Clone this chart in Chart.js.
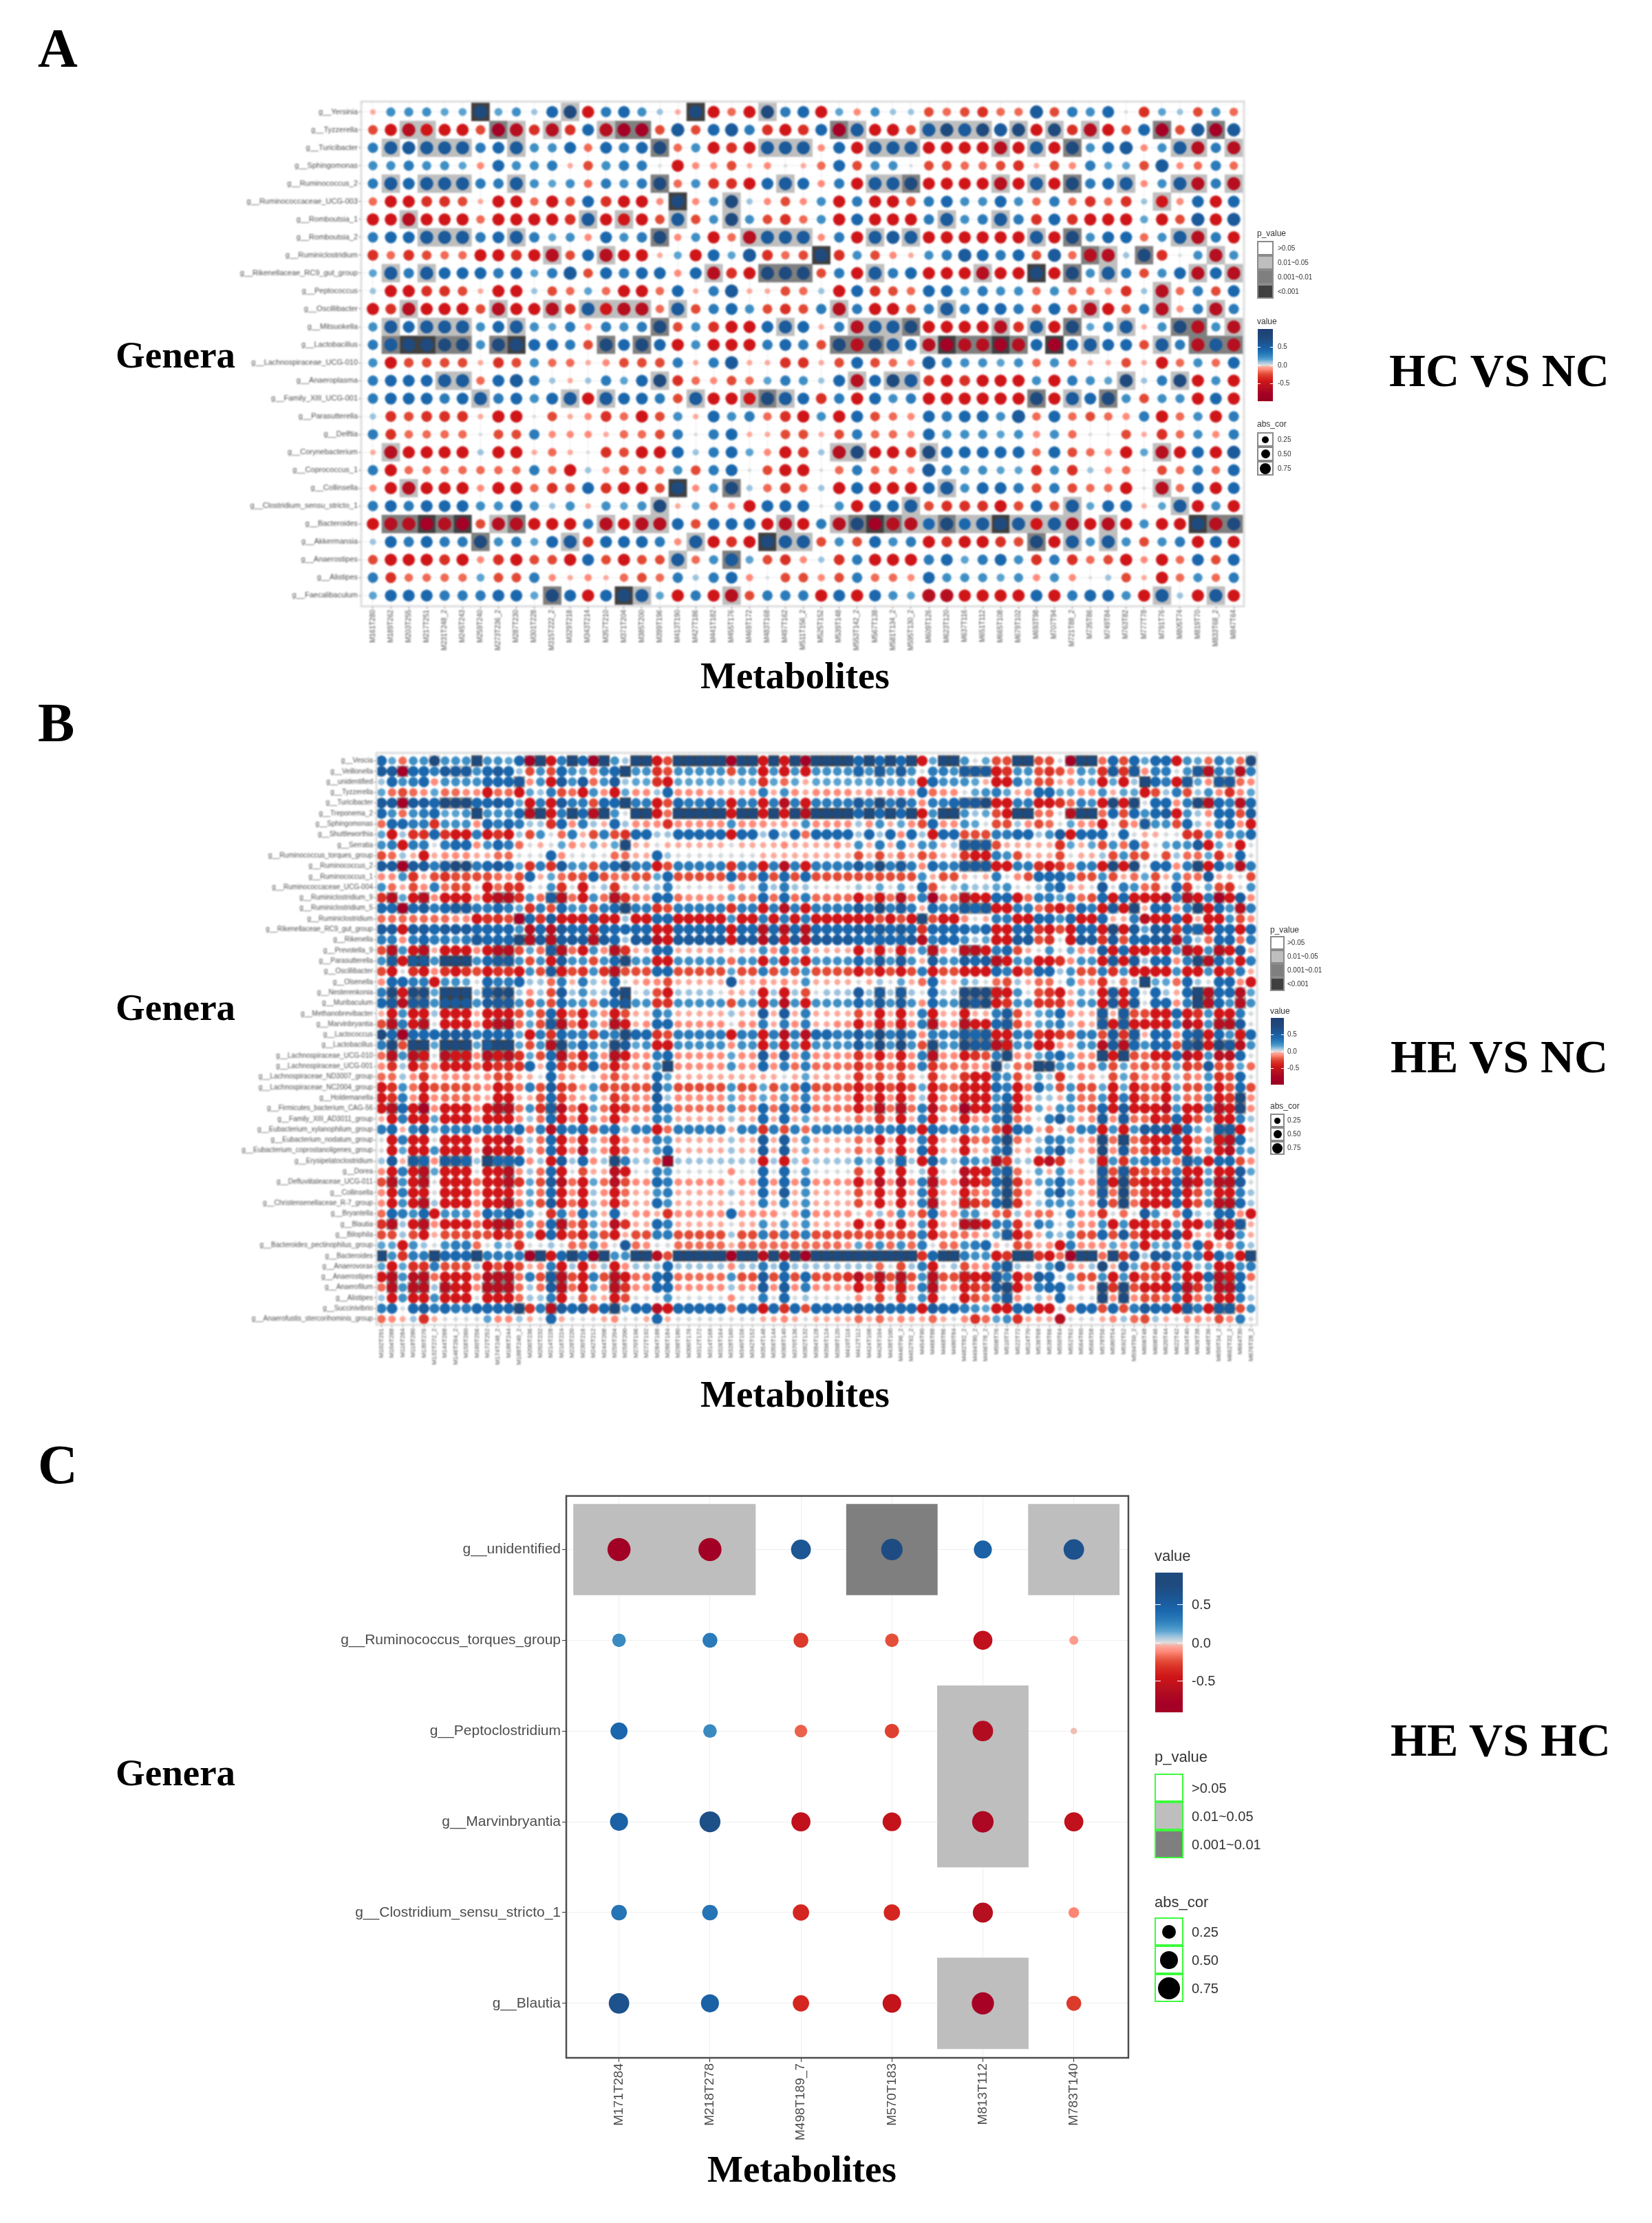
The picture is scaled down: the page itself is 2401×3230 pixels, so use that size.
<!DOCTYPE html>
<html>
<head>
<meta charset="utf-8">
<title>Genera vs metabolites correlation</title>
<script src="https://cdn.jsdelivr.net/npm/chart.js@4/dist/chart.umd.js"></script>
<style>
body { margin: 0; background: #fff; width: 2401px; height: 3230px; position: relative; overflow: hidden; font-family: "Liberation Sans", Arial, sans-serif; }
canvas { position: absolute; }
.t { position: absolute; white-space: nowrap; transform: translateY(-50%); line-height: 1; color: #333; filter: blur(0.5px); }
.head { font-family: "Liberation Serif", serif; font-weight: bold; color: #000; filter: blur(0.3px); }
.box { position: absolute; box-sizing: border-box; }
</style>
</head>
<body>
<canvas id="chart-a" style="filter:blur(0.9px)"></canvas>
<canvas id="chart-b" style="filter:blur(0.9px)"></canvas>
<canvas id="chart-c" style="filter:blur(0.6px)"></canvas>
<script>
// cell codes: 0-7 blue strength, a-h red strength
const codeValue = { 0: 0.01, 1: 0.08, 2: 0.15, 3: 0.22, 4: 0.3, 5: 0.42, 6: 0.55, 7: 0.75,
  a: -0.05, b: -0.12, c: -0.18, d: -0.25, e: -0.33, f: -0.45, g: -0.62, h: -0.8 }

const colorValues = [-1, -0.8, -0.62, -0.45, -0.33, -0.25, -0.18, -0.12, -0.05, 0, 0.08, 0.15, 0.22, 0.3, 0.42, 0.55, 0.75, 1]
const colorHexes = ['#99001f', '#a50026', '#b50f20', '#cf1518', '#d93025', '#e24a36', '#f06a55', '#ff8a7a', '#fba99b', '#dddddd',
  '#9cc3de', '#5ba3d0', '#3f8fc5', '#2b7bba', '#1a67ad', '#1b5a9b', '#1f4a7e', '#1f3f74']

const generaA = ['g__Yersinia', 'g__Tyzzerella', 'g__Turicibacter', 'g__Sphingomonas', 'g__Ruminococcus_2', 'g__Ruminococcaceae_UCG-003',
  'g__Romboutsia_1', 'g__Romboutsia_2', 'g__Ruminiclostridium', 'g__Rikenellaceae_RC9_gut_group', 'g__Peptococcus', 'g__Oscillibacter',
  'g__Mitsuokella', 'g__Lactobacillus', 'g__Lachnospiraceae_UCG-010', 'g__Anaeroplasma', 'g__Family_XIII_UCG-001', 'g__Parasutterella',
  'g__Delftia', 'g__Corynebacterium', 'g__Coprococcus_1', 'g__Collinsella', 'g__Clostridium_sensu_stricto_1', 'g__Bacteroides',
  'g__Akkermansia', 'g__Anaerostipes', 'g__Alistipes', 'g__Faecalibaculum']

const metabolitesA = ['M161T280', 'M189T262', 'M203T255', 'M217T251', 'M231T248_2', 'M245T243', 'M259T240', 'M273T236_2', 'M287T230', 'M301T228',
  'M315T222_2', 'M329T218', 'M343T214', 'M357T210', 'M371T204', 'M385T200', 'M399T196', 'M413T190', 'M427T186', 'M441T182',
  'M455T176', 'M469T172', 'M483T168', 'M497T162', 'M511T156_2', 'M525T152', 'M539T148', 'M553T142_2', 'M567T138', 'M581T134_2',
  'M595T130_2', 'M609T126', 'M623T120', 'M637T116', 'M651T112', 'M665T108', 'M679T102', 'M693T98', 'M707T94', 'M721T88_2',
  'M735T86', 'M749T84', 'M763T82', 'M777T78', 'M791T76', 'M805T74', 'M819T70', 'M833T68_2', 'M847T64']

const valuesA = [
  'a333227231 57f4531a7f cf745f2b31 1dcdecc6d4 350e21d3c',
  'dfgfffdhge ge5ghhd6d5 64efe5h6ff d676767f7e gfd5hd6h6',
  '4666664563 35c5457c3f ef666b5f66 6ffffgf6f7 356b36g4g',
  '334332b533 4ad3440fbb dab0ac5d33 0ddccdeadb 422d6bc4c',
  '4656664463 23c4347c3e ef565b4f66 7ffffgf6f7 456b36g4g',
  'cffeedaffc fd5effb7b3 71bdb3f4ff d453353c4c ece1fb5f5',
  'ffgfffcfff fe6fffd6d3 73dec3f5ff f463464e5e fff2fd6f6',
  '4556664564 23b5347b3f cg666b4f66 6ffffff6f7 355c36g4f',
  'ecedccffef gd5gffa2f5 26ecd7e3db a346545d6c gg17e03g3',
  '2646555452 46d5455b5g ef777d4f64 5fffgff7f7 364d35g5g',
  '1ffeedaff1 dc2cffc5a4 6aadc1f5ed c553433c3c cbe1gc4d5',
  'fegfffdgff ge6fggc6d4 53ded4g4ff d464554d5d gfd4gb4g4',
  '3656663563 24b4347d3e ff565a4g66 7ffffge6f7 246a37g3g',
  '4677773775 54d7575f3f ff454d7g76 5ghgghg5h5 655d64g6g',
  '3fddddaed3 ccabddd4a4 6aaeead5dc b643323c3c aadafc3c5',
  '455566c564 1a14257ecb dc24315g57 6efefff3f4 327147f3f',
  '4555456453 56f6554d6f ff765e4f53 4ffffff7f6 573d33f5f',
  '1edeeeaff0 dabecfd3a5 34cef3f5dc b545536c5c dcb4fc3f4',
  '4ecccc0dd4 bbbaccd404 5aaddad4cc b533323b3c 00daec3b4',
  'agffff1ffa ca0edff514 52bfe1g7ff e755555c5d cbf2gf5f6',
  '4fccccccc4 cf1bdcc3d4 50dff0c4cc b643322e3e 1bc0dc4c5',
  'bfgfffbffc ed5effd7b3 71cec1f5ff f563554d4d ccf0gc5f5',
  '4545553353 13a3237a2c bf55503f55 6deeefd5d6 255a26f3f',
  'fgghghdggf ff4gfgg5d5 55fgf4g7hg g575676f6g fgf3ff7g7',
  '1545447342 56e5554b6f ef766d3d53 4feffed7f6 363d34f5f',
  'dfffefbefd df5dfdd6c3 62deb1e4ff f452453e4e cdfbfc5d5',
  '4ecccc2dd4 babacdc414 5b0ddbd4cc b533323b3b 01dafc3c4',
  '2555444552 75f5762f4f gd444f5f53 2ggffff5f4 553f61f6f'
]

// p level per cell: . >0.05, 1 0.01~0.05, 2 0.001~0.01, 3 <0.001
const pLevelsA = [
  '......3... .1......3. ..1....... .......... .........',
  '..11...21. 1..122.... ......21.. .1111.1.1. 1...2..2.',
  '.1.111..1. ......2... ..111...11 1....1.1.2 .....11.1',
  '.......... .......... .......... .......... .........',
  '.1.111..1. ......2... ...1....11 2....1.1.2 ..1..11.1',
  '.......... .......3.. 1......... .......... ....1....',
  '..1....... ..1.1..1.. 1......... ..1..1.... .........',
  '...111..1. ......2... .1111...1. 1......1.2 .....11..',
  '.......... 1..1...... .....3.... .......... 21.2...1.',
  '.1.1...... .........1 ..222...1. ....1..3.2 .1....1.1',
  '.......... .......... .......... .......... ....1....',
  '..1....1.. 1.1111.1.. ......1... ..1....... 1...1..1.',
  '.1.111..1. ......2... ...1...111 2....1.1.2 ..1..22.1',
  '.23322.23. ...2.2.... ......2221 .132232.3. 1...1.222',
  '.......... .......... .......... .......... .........',
  '....11.... ......1... .......1.1 1......... ..1..1...',
  '......1... .1.1....1. .121...... .......2.1 .2.......',
  '.......... .......... .......... .......... .........',
  '.......... .......... .......... .......... .........',
  '.1........ .......... ......11.. .1........ ....1....',
  '.......... .......... .......... .......... .........',
  '..1....... .......3.. 2......... ..1....... ....1....',
  '.......... ......1... .......... 1........1 .....1...',
  '.22323.12. ...1.11... ...1..1232 1121131111 .1....322',
  '......2... .1......1. ..311..... .......2.1 .1.......',
  '.......... .......1.. 2......... .......... .........',
  '.......... .......... .......... .......... .........',
  '.......... 2...31.... 1......... .......... ....1..1.'
]

const generaB = ['g__Vescia', 'g__Veillonella', 'g__unidentified', 'g__Tyzzerella', 'g__Turicibacter', 'g__Treponema_2', 'g__Sphingomonas', 'g__Shuttleworthia',
  'g__Serratia', 'g__Ruminococcus_torques_group', 'g__Ruminococcus_2', 'g__Ruminococcus_1', 'g__Ruminococcaceae_UCG-004', 'g__Ruminiclostridium_9',
  'g__Ruminiclostridium_5', 'g__Ruminiclostridium', 'g__Rikenellaceae_RC9_gut_group', 'g__Rikenella', 'g__Prevotella_9', 'g__Parasutterella',
  'g__Oscillibacter', 'g__Olsenella', 'g__Nesterenkonia', 'g__Muribaculum', 'g__Methanobrevibacter', 'g__Marvinbryantia',
  'g__Lactococcus', 'g__Lactobacillus', 'g__Lachnospiraceae_UCG-010', 'g__Lachnospiraceae_UCG-001', 'g__Lachnospiraceae_ND3007_group', 'g__Lachnospiraceae_NC2004_group',
  'g__Holdemanella', 'g__Firmicutes_bacterium_CAG-56', 'g__Family_XIII_AD3011_group', 'g__Eubacterium_xylanophilum_group', 'g__Eubacterium_nodatum_group',
  'g__Eubacterium_coprostanoligenes_group', 'g__Erysipelatoclostridium', 'g__Dorea', 'g__Defluviitaleaceae_UCG-011', 'g__Collinsella',
  'g__Christensenellaceae_R-7_group', 'g__Bryantella', 'g__Blautia', 'g__Bilophila', 'g__Bacteroides_pectinophilus_group', 'g__Bacteroides',
  'g__Anaerovorax', 'g__Anaerostipes', 'g__Anaerofilum', 'g__Alistipes', 'g__Succinivibrio', 'g__Anaerofustis_stercorihominis_group']

const metabolitesB = ['M102T291', 'M104T288', 'M116T284', 'M118T280', 'M130T276', 'M132T272_2', 'M144T268', 'M146T264_2', 'M158T260', 'M160T256',
  'M172T252', 'M174T248_2', 'M186T244', 'M188T240_2', 'M200T236', 'M202T232', 'M214T228', 'M216T224', 'M228T220', 'M230T216',
  'M242T212', 'M244T208', 'M256T204', 'M258T200', 'M270T196', 'M272T192', 'M284T188', 'M286T184', 'M298T180', 'M300T176',
  'M312T172', 'M314T168', 'M326T164', 'M328T160', 'M340T156', 'M342T152', 'M354T148', 'M356T144', 'M368T140', 'M370T136',
  'M382T132', 'M384T128', 'M396T124', 'M398T120', 'M410T116', 'M412T112', 'M424T108', 'M426T104', 'M438T100', 'M440T96_2',
  'M452T92_2', 'M454T90', 'M466T88', 'M468T86', 'M480T84', 'M482T82_2', 'M494T80_2', 'M496T78_2', 'M508T76', 'M510T74',
  'M522T72', 'M524T70', 'M536T68', 'M538T66', 'M550T64', 'M552T62', 'M564T60', 'M566T58', 'M578T56', 'M580T54',
  'M592T52', 'M594T50_2', 'M606T48', 'M608T46', 'M620T44', 'M622T42', 'M634T40', 'M636T38', 'M648T36', 'M650T34_2',
  'M662T32_2', 'M664T30', 'M676T28_2']

const valuesB = [
  '52c3373337 3325h7f475 h73177fd77 777h77f7f7 h777757575 7f277302dd 77dd0h77c5 d5255f32c4 3c7',
  '66h5546663 5651d3d532 c45733ed33 333d33f3f3 f333353636 30443666fe 33dedb32e6 e6b44036g4 3g4',
  '15345b3333 5556b3f636 c36122ef22 222122e2c2 a222222323 2f53332aff 42ddab22f2 f1754f62b6 6cb',
  '2cdcb2ccbb fccf214dcf 3bf2bb15bb baaaab4a3b abbbbababb b5cbb02342 ab5522bb3a 22fd14d13b eb2',
  '66h6657775 5652f4f644 d55744fd54 454f44f4g4 f444464746 4b445667ff 44ffec43f7 f7055b47g5 4g5',
  '53c3452237 3335g7f475 g73077fc77 777f77f7f7 g777757575 7f377312df 77cc0g77c5 d5356f31b5 5d6',
  'c5544e333b 545411e5b4 1a51bbbebb bbb3bbbaba 3bbbb1b3a2 bd5bb320dd 1bdc02bbf0 db633d51a4 5bf',
  '2f1ee5eff4 fef1d30c4a d4de551155 555f551515 c55551515b 51f55ddd44 55136f5550 50aa00ee3c 335',
  '34f440455b 354c0a02ba 2a27aa0aaa aaa0aaaaba aaaba3a4a4 a33a1666da aaaae2a2d3 c5c02336f2 af0',
  'dc1afabbba acc0005b00 00ccaa5100 000000aaaa aaaaadadac adcaaeff43 daaad0aa1d 3dd0d1cc2e a50',
  '66h6646774 5652e4e633 d45744fd44 444e44f4g4 f444464746 4b544666ff 44efec44f7 f7055b47f5 3g4',
  'bb3eadeddd dcbd5a2cdd 5dccdd25dd ddd5dd5d5d 5ddddddddd d3adda0a40 bd5554dd3d ac2da3cc6a a0d',
  '3cadb4cdd0 fcee003e0f 01e0111400 000b104141 1000010202 05d0121123 00145aa060 43cd05e02d e03',
  'eg2fgbfffb fgge3c6gcf 3cgecb55cb bbb2cc5c5c 4ccccfcfcg c4hccgff55 fc4424cd5f 5fffg4gf4h f6b',
  '55h5645664 4542e4d533 d45744ed44 444e44f4g4 f444464746 4a544656ff 44cefd54f6 f7a55b47f5 3g4',
  'cccccccbbf eedh5e6fff 5ff1ff55ff fff3ff4f4f 4ffffffdfd f7dffb0a44 ff5535ff5a a4gff5faff 3db',
  '66f6656665 5553g5g655 f55555ff55 555f55g5g5 g555565656 5e555545ff 55efdf55f7 f6266e55f5 5f5',
  '44b4544346 5557g6g666 g65166gf66 666f66g6f6 g666655555 6g455312ff 66de0f66e6 d5566g41c5 5c4',
  'dg3fgafffb fggd2c6gcf 3bgeaa55aa aaa0aa3b4b 3aaaafafaf b3gbaggf45 da0302bb6f 5ffef3gf3g f6a',
  '36f6637773 5663d3f633 d35733ff33 333c33f3f3 f333353636 3a633656gf 33ffeb33f6 f6155b47g5 3f4',
  'df0efbefed feef3d6fde 3egddd55dd ddd2dd4d3d 3ddddfdfdf d4fddfff54 fd5513dd4e 3ffff3ff3f e4a',
  'b5544f3320 544511c4a4 1a50abbdaa aaa6aababa 3aaaa0a102 ac5aa210cd 1acc03bbe0 c1722c5105 5bf',
  '47f7727771 6771b1d613 116701df11 110aa1f1f1 d011161616 10511777ff 30defa21f6 f5051a57g5 5g2',
  '56g6636663 6663d3d533 c45633ee33 333d33f3g3 f333353636 3b533767fe 33eeeb33f6 f6055b47g5 3g3',
  'af3ff1fffa fffd2d5fcf 2bfdaa43aa aaa1aa6a6a 4aaaadafaf a4faafaa46 da235baa6a 6ddff5fe3f f40',
  'dg4fg0fffb fggc2d6gcf 2bgfab55bb bbb0bb4a4b 4aabbfbfbf b4gbbgff56 db2341ba6f 6ffff4gf3g g60',
  '75h5556664 5552f4e544 e44755ed44 444f44f4g4 g554464746 4b444656ff 44efed44d6 e6a55b56f5 3f5',
  '47d7727772 6772d3g735 327623ff33 333b33f3f3 f333363737 3d733766gf 33ffba33g6 g5355d67f7 6g3',
  'cg3gf0gffb gfge2d5gcf 3bgfbb45bb bbb2bb6b6b 4bbbbebfbf b4gbbfed47 bb2452bb7f 7dcff5gf3g g50',
  'be1fdbfffc feee5a5ede 5cfcbc37bb bbb3bb5b4c 4ccccecdce c4ecccbb71 cc7733cc3d 2cdcd2ed6d d2c',
  'cc1beabbba bddaa05ba0 0bdbaa52aa aaaaaaaa0a 2aaaaeadad a0eaaeff43 da21e0ba0d 2dbbd1cb3e d50',
  'fe3cfddddc bfec4d6edb 3ddddd63dd ddd3dd2d3d 5ddddfdfdf d2fddfff54 fc52d3dd2f 2fddf2dd3f d5d',
  'fe4bfbcccb affaad5eba 2aecbb61bb bbb2bb2b3b 4bbbbfbfbf b1fbbfff35 fb11a3cc3f 4fdcf2cc3f e7b',
  'fg5fhbfffb fggc3e6gcf 2cfecc54cc ccc3cc5c5c 5ccccfcgcg c4gcchff46 fc2a33cd5f 6fffg3ff4g f7b',
  'af4ff2fffb fffb1c5fbf 1bfbaa43aa aaa1aa5a5a 2aaaacaeaf a4faafbb46 ca0462ab6b 6ccfe5fd2f f41',
  '45a4624444 4445c4g545 d45144fc44 444a44e4d4 c444444445 4f544432dg 54ac0c44f3 f3666g52a6 6fa',
  '0f4ff0fffa ffgb1c5fbf 1bfbab43aa aaa1aa6a6a 3aaaacafaf a4faafcc47 ca1442ab7c 7ceff5fc2f g50',
  '0f2ff3fffa gffe1c5fbg 1bfcaa35aa aaa1aa6a6a 2aaaacadaf a5faafaa46 aa2462ab7b 6cdfd5fb2f g32',
  '16a65b6651 7555b1f615 b17411ch11 111111f1f1 b111131415 1f621432ge 11fge0a1f3 e3453c64f5 5db',
  'bf4fg2fff0 ffgb1c5f0d aagf004300 000b005050 30000d0f0f 01f00gff46 c02a3aa06d 6eddd4ff2f f62',
  'dg3fg0fffc ffge2d6gcf 2cgdbb54bb bbb0bb5b5b 4bbbbfbgbg b4gbbgfe57 eb2352bb6f 7efff5gf3g g60',
  'bf4ff0fffb fffb2c5fbf 1bfcaa34aa aaa1aa5a6a 3aaaadafaf a4faafcb47 db0462ab6c 7ceff5fd2f f41',
  'bf3fg1fffb ffgc2d6fcf 1bfcaa53aa aaa0aa4a4a 3aaaadafaf a4gaafed57 ea1332ab6d 7cfff5fd3g g51',
  'c5435f333b 545520e4b5 2a50bbaebb bbb5bbbb0b 4bbbb0b1b3 bd5bb330cd 1bcc04bbe0 c0630c5105 5bf',
  'eg1fgbfffc fggc2c5gce 2bgeaa54aa aaa0aa3a3a 3aaaafafaf a3faaggf44 ea4302bb3f 3ffdf2ff3g f6a',
  'dd1dfadddd dfed2f5fdf 3dfadd44dd ddd1dd4d4d 4ddddddddd d4fcccba26 fda213dd5d 6dfff6faaf g3a',
  '22f310344c 021e0010cc 3b06cb00cc cccacccccc ccccb2c3c3 c40cc345a0 dcabf4bbb2 b3f224b5ea c31',
  '73e4475557 4444h7f575 h73377gd77 777h77g7g7 h777777777 7e577433fe 77efch77c7 e6166344f5 3f7',
  '2f2ee4ddd1 fdfdab4f1f a1fb111511 111b114151 1111111c0d 14f01dbb46 10136ba17a 62dec5f12f f34',
  'fg3ggcfffc gggc4d6gdf 4dgfcc56cc ccc3dd6d5d 5dddegdgdg d3gddfff64 fd6503dd3f 3fddf3ff5g f5c',
  'cg3gg1gffb gggc1c6gcf 2bgebb55bb bbb1bb6b6b 4bbbbfbfbf b4gbbfed67 fb4551ba7e 7dfff5ge3g g50',
  '1f3ff3fff0 fffc114f0d aafd000300 000b004050 10000b0d0e 03f00fdc36 b01a50007b 7bddc4fc2f f41',
  '4505645445 5557e4g656 e57255gf55 555c55f5e5 d555565655 5f655432ff 55ff0d55d5 d4655f64f6 6d3',
  'cba1ea0000 2bb1a05a00 0ab00a5a00 000000aaba 0aaaacacab aaca0bec23 eaaag000ab 1cd1a0bbad b40'
]

// tiles per row: l light, m mid, d dark + zero based column or column range
const tilesB = [
  'l5 d9 m14 d15 d18 m20 d21 d24-25 d28-32 m33 d34-35 d37 d39 m40 d41-44 d46 d48 d50 d53-54 d60-61 m65 d66-67 l82',
  'm2 l7-8 d23 l45 m47 l49 m55-57 l69 m71 m77-78 l81',
  'm13 d72 m76 m79-80',
  '',
  'm2 m6-8 d23 l45 m47 l49 m55-57 l69 m71 m77-78 l81',
  'd9 m14 d15 d18 m20 d21 d24-25 d28-32 d34-35 d37 d39 m40 d41-44 d46 d48 d50 d53-54 d60-61 m65 d66-67',
  'l72',
  '',
  'm23 m55-57',
  '',
  'm2 l6-8 l23 l47 l49 m55-57 l69 l71 m77 l81',
  '',
  '',
  'm1 m4 m11-12 m16-17 m22 l47 l49 l52 m55 m76 m79',
  'm2 l7-8 m23 l47 l49 m55-57 l69 m71 m77 l81',
  'm13 m51',
  'l36 l38 l40 l47 l49 l69 m77',
  'l9 m13-14 m16 m20 l47 l49 l75',
  'm1 m4 m11-12 m16-17 m22 l47 l49 m52 m55-56 m76 m79',
  'm1 d3-4 d6-8 m11-12 m23 l47 l49 m58 l69 l71 m77-78',
  'l16-17 m22',
  'd72',
  'm1 m3-4 d6-8 m10-12 d23 m47 m49 m55-58 l69 d77 m78 l81',
  'm1 m3-4 d6-8 m11-12 d23 l47 l49 m55-57 l69 l71 d77 m78 m81',
  'l59 m68 m70',
  'm1 m4 m11-12 m16-17 m22 l47 l49 m52 m55 m59 m68 m70 m79-80',
  'm2 m23 l47 l49 m55-57 l69 m71 m77 l81',
  'm1 d3-4 d6-8 d10-12 m16-17 m22 l47 l49 m52 m55-59 l69 m70 l71 m76-77 m79-80',
  'm1 m3-4 m6-8 m10-12 m17 m22 m52 m59 d68 d70',
  'd27 m58 d62 m63',
  '',
  '',
  'm81',
  'm1 m4 m11-12 m16 m47 m49 m55 m59 m79 m81',
  'l59 l68 l70',
  'l59 m75 m79-80',
  'm59 m68 d70 m79-80',
  'l59 l68 l70',
  'm3-4 m6-8 d10 m11-12 m22 d27 m49 m58 m68 m76',
  'm4 m12 m59 m68 m70',
  'm1 m4 m12 m52 m59 m68 m70 m76 m79-80',
  'm59 m68 m70',
  'm4 m12 m52 m55 m59 m70 m79-80',
  '',
  'm1 m4 m11-12 m17 m55-56 m79 m81',
  'm59',
  '',
  'd0 d5 d9 m14 d15 d18 m20 d21 d24-25 d28-32 m33 d34-35 d37 d39 m40 d41-50 d53-54 d60-61 m65 d66-67 d69 d82',
  'm59',
  'm1 m4 m11-12 m16-17 m22 m47 m49 m52 m55 m58 m79-80',
  'm1 m3-4 m6 m10-12 m17 m22 m49 m52 m59 m68 m70 m76 m79-80',
  'm59 m68 m70',
  'm13 m16 m22 m76 m79-80',
  ''
]

const generaC = ['g__unidentified', 'g__Ruminococcus_torques_group', 'g__Peptoclostridium', 'g__Marvinbryantia', 'g__Clostridium_sensu_stricto_1', 'g__Blautia']
const metabolitesC = ['M171T284', 'M218T278', 'M498T189_7', 'M570T183', 'M813T112', 'M783T140']
const valuesC = [
  [-0.85, -0.85, 0.6, 0.72, 0.48, 0.65],
  [0.24, 0.3, -0.3, -0.24, -0.55, -0.08],
  [0.42, 0.24, -0.2, -0.28, -0.65, -0.03],
  [0.48, 0.68, -0.55, -0.52, -0.72, -0.55],
  [0.34, 0.34, -0.38, -0.38, -0.62, -0.13],
  [0.65, 0.48, -0.38, -0.52, -0.78, -0.3]
]
const pLevelsC = ['11.2.1', '......', '....1.', '....1.', '......', '....1.']

function valueColor(v) {
  let i = colorValues.findIndex(x => x >= v)
  if (i <= 0) return colorHexes[Math.max(i, 0)]
  const t = (v - colorValues[i - 1]) / (colorValues[i] - colorValues[i - 1])
  const a = parseInt(colorHexes[i - 1].slice(1), 16)
  const b = parseInt(colorHexes[i].slice(1), 16)
  const mix = s => Math.round(((a >> s) & 255) * (1 - t) + ((b >> s) & 255) * t)
  return `rgb(${mix(16)},${mix(8)},${mix(0)})`
}

const panelBox = {
  id: 'panelBox',
  afterDraw(chart, args, opts) {
    const { ctx, chartArea: a } = chart
    ctx.save()
    ctx.strokeStyle = opts.color
    ctx.lineWidth = opts.width
    ctx.strokeRect(a.left, a.top, a.right - a.left, a.bottom - a.top)
    ctx.restore()
  }
}

function denseTiles(rows) {
  const out = { 1: [], 2: [], 3: [] }
  rows.forEach((row, r) => {
    row.replace(/ /g, '').split('').forEach((ch, c) => {
      if (ch !== '.') out[ch].push({ x: c + 1, y: [r + 0.5, r + 1.5] })
    })
  })
  return out
}

function sparseTiles(rows) {
  const out = { 1: [], 2: [], 3: [] }
  const level = { l: 1, m: 2, d: 3 }
  rows.forEach((row, r) => {
    row.split(' ').filter(Boolean).forEach(tok => {
      const [from, to] = tok.slice(1).split('-').map(Number)
      for (let c = from; c <= (to === undefined ? from : to); c++) {
        out[level[tok[0]]].push({ x: c + 1, y: [r + 0.5, r + 1.5] })
      }
    })
  })
  return out
}

function drawPanel(p) {
  const axisW = p.left - p.canvasLeft
  const canvas = document.getElementById(p.id)
  canvas.style.left = p.canvasLeft + 'px'
  canvas.style.top = (p.top - 4) + 'px'
  canvas.width = axisW + (p.right - p.left) + 4
  canvas.height = 4 + (p.bottom - p.top) + p.axisH
  const size = v => Math.min(p.rMax, p.rBase + p.rK * Math.sqrt(Math.abs(v)))
  const points = []
  p.values.forEach((row, r) => row.forEach((v, c) => points.push({ x: c + 1, y: r + 1, r: size(v), v: v })))
  const bar = (data, color) => ({ type: 'bar', data: data, backgroundColor: color, borderWidth: 0, grouped: false,
    barPercentage: 1, categoryPercentage: 1, order: 2 })
  const axis = (labels, min, max, font) => ({
    type: 'linear', min: min, max: max, offset: false,
    grid: { color: '#eeeeee', lineWidth: 1, offset: false, tickLength: p.tickLen, tickColor: '#333', tickWidth: 1 },
    border: { display: false },
    afterBuildTicks: s => { s.ticks = labels.map((l, i) => ({ value: i + 1 })) },
    ticks: { autoSkip: false, color: '#4d4d4d', font: { size: font }, padding: 2, callback: v => labels[v - 1] }
  })
  const xAxis = axis(p.xLabels, p.xMin, p.xMax, p.xFont)
  xAxis.ticks.minRotation = 90
  xAxis.ticks.maxRotation = 90
  xAxis.afterFit = s => { s.height = p.axisH }
  const yAxis = axis(p.yLabels, p.yMin, p.yMax, p.yFont)
  yAxis.reverse = true
  yAxis.afterFit = s => { s.width = axisW }
  return new Chart(canvas, {
    type: 'bar',
    data: {
      datasets: [
        bar(p.tiles[1], '#bebebe'), bar(p.tiles[2], '#7f7f7f'), bar(p.tiles[3], '#404040'),
        { type: 'bubble', data: points, backgroundColor: points.map(d => valueColor(d.v)), borderWidth: 0, order: 1 }
      ]
    },
    options: {
      responsive: false,
      animation: false,
      devicePixelRatio: 1,
      layout: { autoPadding: false, padding: { top: 4, right: 4, left: 0, bottom: 0 } },
      scales: { x: xAxis, y: yAxis },
      plugins: { legend: { display: false }, tooltip: { enabled: false }, panelBox: { color: p.boxColor, width: p.boxWidth } }
    },
    plugins: [panelBox]
  })
}

drawPanel({ id: 'chart-a', canvasLeft: 125, left: 525, right: 1808, top: 143, bottom: 881, axisH: 90, tickLen: 3,
  xMin: 0.35, xMax: 49.57, yMin: 0.42, yMax: 28.6, xFont: 10, yFont: 11, rBase: 1.5, rK: 11, rMax: 9.6,
  boxColor: '#dddddd', boxWidth: 3, xLabels: metabolitesA, yLabels: generaA,
  values: valuesA.map(s => s.replace(/ /g, '').split('').map(k => codeValue[k])), tiles: denseTiles(pLevelsA) })

drawPanel({ id: 'chart-b', canvasLeft: 160, left: 547, right: 1827, top: 1090, bottom: 1925, axisH: 90, tickLen: 3,
  xMin: 0.52, xMax: 83.58, yMin: 0.25, yMax: 54.55, xFont: 9, yFont: 10, rBase: 2.5, rK: 8.5, rMax: 7.8,
  boxColor: '#dddddd', boxWidth: 3, xLabels: metabolitesB, yLabels: generaB,
  values: valuesB.map(s => s.replace(/ /g, '').split('').map(k => codeValue[k])), tiles: sparseTiles(tilesB) })

drawPanel({ id: 'chart-c', canvasLeft: 470, left: 823, right: 1640, top: 2163, bottom: 2990, axisH: 160, tickLen: 6,
  xMin: 0.42, xMax: 6.6, yMin: 0.41, yMax: 6.6, xFont: 19, yFont: 21, rBase: 2, rK: 16, rMax: 17.5,
  boxColor: '#4d4d4d', boxWidth: 2.5, xLabels: metabolitesC, yLabels: generaC,
  values: valuesC, tiles: denseTiles(pLevelsC) })

// text and legends
function text(x, y, str, size, extra) {
  const el = document.createElement('div')
  el.className = 't' + (extra ? ' ' + extra : '')
  el.style.left = x + 'px'
  el.style.top = y + 'px'
  el.style.fontSize = size + 'px'
  el.textContent = str
  document.body.appendChild(el)
  return el
}

function box(x, y, w, h, css) {
  const el = document.createElement('div')
  el.className = 'box'
  el.style.cssText = `left:${x}px;top:${y}px;width:${w}px;height:${h}px;${css}`
  document.body.appendChild(el)
  return el
}

const pLabels = ['>0.05', '0.01~0.05', '0.001~0.01', '<0.001']
const pFills = ['#ffffff', '#bebebe', '#7f7f7f', '#404040']
const corLabels = ['0.25', '0.50', '0.75']
const barTicks = [0.5, 0, -0.5]

function legend(g) {
  // p_value keys
  text(g.x, g.pTitleY, 'p_value', g.titleSize)
  g.pCount.forEach(i => {
    const y = g.pTop + i * g.keyH
    box(g.x, y, g.keyW, g.keyH, `background:${pFills[i]};border:${g.keyBorder}`)
    text(g.x + g.keyW + g.gap, y + g.keyH / 2, pLabels[i], g.labelSize)
  })
  // value colour bar
  text(g.x, g.valueTitleY, 'value', g.titleSize)
  const pct = v => ((g.barMax - v) / (2 * g.barMax) * 100).toFixed(1)
  const stops = colorValues.filter(v => Math.abs(v) <= g.barMax).reverse().map(v => `${valueColor(v)} ${pct(v)}%`)
  box(g.x + 1, g.barTop, g.keyW - 2, g.barH, `background:linear-gradient(to bottom,${stops.join(',')})`)
  barTicks.forEach(v => {
    const y = g.barTop + g.barH * pct(v) / 100
    const w = (g.keyW - 2) / 5
    box(g.x + 1, y, w, 1, 'background:#fff')
    box(g.x + g.keyW - 1 - w, y, w, 1, 'background:#fff')
    text(g.x + g.keyW + g.gap, y, v.toFixed(1), g.labelSize)
  })
  // abs_cor keys
  text(g.x, g.corTitleY, 'abs_cor', g.titleSize)
  corLabels.forEach((l, i) => {
    const y = g.corTop + i * g.keyH
    box(g.x, y, g.keyW, g.keyH, `background:#fff;border:${g.keyBorder}`)
    const r = g.corR[i]
    box(g.x + g.keyW / 2 - r, y + g.keyH / 2 - r, 2 * r, 2 * r, 'background:#000;border-radius:50%')
    text(g.x + g.keyW + g.gap, y + g.keyH / 2, l, g.labelSize)
  })
}

legend({ x: 1827, keyW: 24, keyH: 21, gap: 6, titleSize: 12, labelSize: 10, keyBorder: '2px solid #8a8a8a',
  pTitleY: 339, pTop: 350, pCount: [0, 1, 2, 3], valueTitleY: 467, barTop: 478, barH: 105, barMax: 1,
  corTitleY: 616, corTop: 628, corR: [5, 6.5, 8] })
legend({ x: 1846, keyW: 21, keyH: 20, gap: 4, titleSize: 12, labelSize: 10, keyBorder: '2px solid #8a8a8a',
  pTitleY: 1351, pTop: 1360, pCount: [0, 1, 2, 3], valueTitleY: 1469, barTop: 1479, barH: 97, barMax: 1,
  corTitleY: 1607, corTop: 1618, corR: [4.5, 6, 7.5] })
legend({ x: 1678, keyW: 42, keyH: 41, gap: 12, titleSize: 22, labelSize: 20, keyBorder: '2px solid #3dfc3d',
  pTitleY: 2553, pTop: 2577, pCount: [0, 1, 2], valueTitleY: 2261, barTop: 2285, barH: 203, barMax: 0.92,
  corTitleY: 2764, corTop: 2786, corR: [10, 13, 16] })

// panel letters and side captions
text(55, 70, 'A', 80, 'head')
text(55, 1050, 'B', 80, 'head')
text(55, 2128, 'C', 80, 'head')
text(168, 515, 'Genera', 55, 'head')
text(168, 1463, 'Genera', 55, 'head')
text(168, 2575, 'Genera', 55, 'head')
text(1018, 981, 'Metabolites', 55, 'head')
text(1018, 2025, 'Metabolites', 55, 'head')
text(1028, 3151, 'Metabolites', 55, 'head')
text(2019, 538, 'HC VS NC', 68, 'head')
text(2021, 1535, 'HE VS NC', 68, 'head')
text(2021, 2528, 'HE VS HC', 68, 'head')
</script>
</body>
</html>
